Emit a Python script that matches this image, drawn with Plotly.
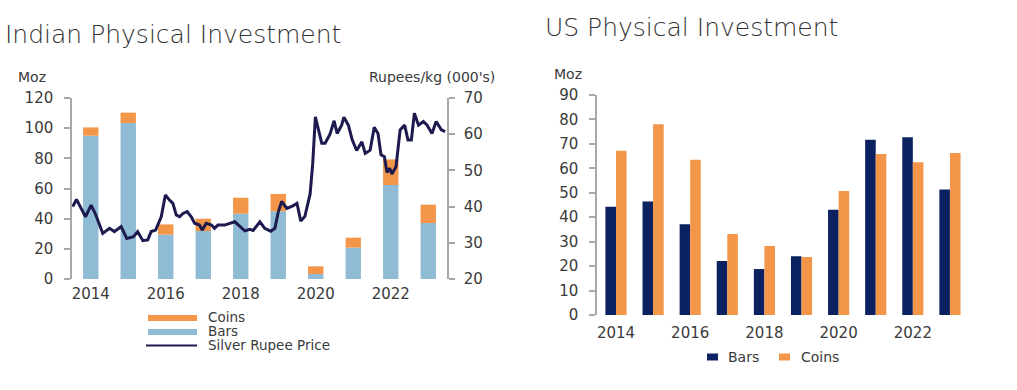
import plotly.graph_objects as go

# ---------------- data ----------------
years = [2014, 2015, 2016, 2017, 2018, 2019, 2020, 2021, 2022, 2023]
year_ticks = [2014, 2016, 2018, 2020, 2022]

india_bars = [95.0, 103.4, 29.4, 31.8, 43.3, 44.9, 3.3, 20.8, 62.3, 37.1]
india_coins = [5.5, 6.9, 6.8, 8.2, 10.6, 11.5, 5.1, 6.6, 17.0, 12.2]

price_t = [2014.02, 2014.12, 2014.36, 2014.51, 2014.62, 2014.82, 2015.00, 2015.13, 2015.31,
           2015.46, 2015.64, 2015.75, 2015.89, 2016.02, 2016.11, 2016.23, 2016.38, 2016.49,
           2016.60, 2016.69, 2016.78, 2016.87, 2016.96, 2017.07, 2017.18, 2017.27, 2017.40,
           2017.47, 2017.58, 2017.72, 2017.80, 2017.89, 2018.07, 2018.34, 2018.61, 2018.74,
           2018.83, 2019.01, 2019.14, 2019.30, 2019.41, 2019.50, 2019.59, 2019.73, 2019.89,
           2020.00, 2020.10, 2020.21, 2020.35, 2020.42, 2020.49, 2020.66, 2020.75, 2020.88,
           2020.99, 2021.07, 2021.19, 2021.25, 2021.37, 2021.47, 2021.59, 2021.73, 2021.82,
           2021.95, 2022.06, 2022.16, 2022.24, 2022.33, 2022.40, 2022.47, 2022.53, 2022.64,
           2022.75, 2022.87, 2022.96, 2023.05, 2023.13, 2023.24, 2023.37, 2023.47, 2023.60,
           2023.71, 2023.85, 2023.95]
price_v = [40.0, 42.0, 37.2, 40.4, 38.1, 32.6, 34.0, 33.1, 34.5,
           31.2, 31.7, 33.1, 30.6, 30.8, 33.1, 33.5, 37.2, 43.2,
           41.8, 40.9, 37.7, 37.2, 38.1, 38.6, 37.2, 35.4, 34.9,
           33.5, 35.4, 34.9, 34.0, 34.9, 34.9, 35.8, 33.3, 33.7,
           33.4, 35.8, 34.0, 33.2, 34.0, 38.5, 41.4, 39.5, 40.2,
           40.9, 36.0, 37.3, 43.5, 52.0, 64.8, 57.5, 57.5, 60.0,
           63.7, 60.2, 62.5, 64.7, 62.5, 58.5, 55.5, 57.9, 54.7,
           55.6, 61.9, 60.2, 54.3, 53.8, 49.4, 50.6, 49.0, 51.0,
           61.2, 62.5, 58.4, 58.4, 65.8, 62.5, 63.5, 62.5, 60.2,
           63.5, 61.2, 60.7]

us_bars = [44.3, 46.4, 37.1, 22.1, 18.8, 24.0, 43.1, 71.7, 72.7, 51.3]
us_coins = [67.2, 78.0, 63.5, 33.1, 28.2, 23.7, 50.7, 65.9, 62.5, 66.3]

# ---------------- styles ----------------
W, H = 1017, 390
C_BARS = "#8FBBD4"
C_COINS = "#F4964A"
C_LINE = "#1C1A4E"
C_NAVY = "#0B2160"
C_TXT = "#3A3A3A"
C_AX = "#A8A8A8"
FONT = "DejaVu Sans"


def px(x):
    return x / W


def py(y):
    return 1 - y / H


india_x = [y + 0.5 for y in years]

fig = go.Figure()

# Indian bars (stacked via base)
fig.add_trace(go.Bar(x=india_x, y=india_bars, width=0.41, offset=-0.205,
                     marker=dict(color=C_BARS, line=dict(width=0)),
                     xaxis="x", yaxis="y", showlegend=False, name="Bars"))
fig.add_trace(go.Bar(x=india_x, y=india_coins, base=india_bars, width=0.41, offset=-0.205,
                     marker=dict(color=C_COINS, line=dict(width=0)),
                     xaxis="x", yaxis="y", showlegend=False, name="Coins"))
fig.add_trace(go.Scatter(x=price_t, y=price_v, mode="lines",
                         line=dict(color=C_LINE, width=3),
                         xaxis="x", yaxis="y2", showlegend=False,
                         name="Silver Rupee Price"))

# US bars (grouped via explicit offsets)
fig.add_trace(go.Bar(x=years, y=us_bars, width=0.285, offset=-0.285,
                     marker=dict(color=C_NAVY, line=dict(width=0)),
                     xaxis="x3", yaxis="y3", showlegend=False, name="Bars"))
fig.add_trace(go.Bar(x=years, y=us_coins, width=0.285, offset=0.0,
                     marker=dict(color=C_COINS, line=dict(width=0)),
                     xaxis="x3", yaxis="y3", showlegend=False, name="Coins"))

tickfont = dict(family=FONT, size=15, color=C_TXT)

fig.update_layout(
    width=W, height=H,
    margin=dict(l=0, r=0, t=0, b=0, pad=0, autoexpand=False),
    paper_bgcolor="white", plot_bgcolor="rgba(0,0,0,0)",
    barmode="overlay",
    showlegend=False,
    xaxis=dict(domain=[px(72), px(447)], range=[2014, 2024],
               tickvals=[t + 0.5 for t in year_ticks], ticktext=[str(t) for t in year_ticks],
               showline=False, showgrid=False, zeroline=False, ticks="",
               tickfont=tickfont, anchor="y", automargin=False, ticklabelstandoff=4),
    yaxis=dict(domain=[py(279), py(98)], range=[0, 120], dtick=20,
               showline=True, linecolor=C_AX, linewidth=1.5,
               ticks="outside", ticklen=6, tickcolor=C_AX, tickwidth=1.5,
               showgrid=False, zeroline=False, tickfont=tickfont,
               ticklabelstandoff=8, anchor="x", automargin=False),
    yaxis2=dict(domain=[py(279), py(98)], range=[20, 70], dtick=10,
                overlaying="y", side="right", anchor="x",
                showline=True, linecolor=C_AX, linewidth=1.5,
                ticks="outside", ticklen=6, tickcolor=C_AX, tickwidth=1.5,
                showgrid=False, zeroline=False, tickfont=tickfont,
                ticklabelstandoff=6, automargin=False),
    xaxis3=dict(domain=[px(597), px(968.5)], range=[2013.488, 2023.5],
                tickvals=year_ticks, ticktext=[str(t) for t in year_ticks],
                showline=False, showgrid=False, zeroline=False, ticks="",
                tickfont=tickfont, anchor="y3", ticklabelstandoff=7, automargin=False),
    yaxis3=dict(domain=[py(315), py(95)], range=[0, 90], dtick=10,
                showline=True, linecolor=C_AX, linewidth=1.5,
                ticks="outside", ticklen=6, tickcolor=C_AX, tickwidth=1.5,
                showgrid=False, zeroline=False, tickfont=tickfont,
                ticklabelstandoff=8, anchor="x3", automargin=False),
)

ann = []


def text(x, y, s, size=15, xanchor="left", color=C_TXT, weight=None):
    f = dict(family=FONT, size=size, color=color)
    if weight:
        f["weight"] = weight
    ann.append(dict(x=px(x), y=py(y), xref="paper", yref="paper", text=s,
                    showarrow=False, xanchor=xanchor, yanchor="middle", font=f))


# titles
text(3, 34, "Indian Physical Investment", size=25, color="#333333", weight=300)
text(543, 28, "US Physical Investment", size=25, color="#333333", weight=300)
# axis unit labels
text(16, 77, "Moz", size=14)
text(497, 77, "Rupees/kg (000's)", size=14, xanchor="right")
text(552, 74, "Moz", size=14)

# left legend (manual)
shapes = []
shapes.append(dict(type="rect", xref="paper", yref="paper", x0=px(148), x1=px(197),
                   y0=py(321), y1=py(315), fillcolor=C_COINS, line=dict(width=0)))
shapes.append(dict(type="rect", xref="paper", yref="paper", x0=px(148), x1=px(197),
                   y0=py(335), y1=py(329), fillcolor=C_BARS, line=dict(width=0)))
shapes.append(dict(type="line", xref="paper", yref="paper", x0=px(146), x1=px(197),
                   y0=py(345.5), y1=py(345.5), line=dict(color=C_LINE, width=2)))
text(206, 317, "Coins", size=13.5)
text(206, 331, "Bars", size=13.5)
text(206, 345, "Silver Rupee Price", size=13.5)

# right legend (manual)
shapes.append(dict(type="rect", xref="paper", yref="paper", x0=px(707), x1=px(718),
                   y0=py(360.5), y1=py(353.5), fillcolor=C_NAVY, line=dict(width=0)))
shapes.append(dict(type="rect", xref="paper", yref="paper", x0=px(779), x1=px(790),
                   y0=py(360.5), y1=py(353.5), fillcolor=C_COINS, line=dict(width=0)))
text(726, 357, "Bars", size=14)
text(799, 357, "Coins", size=14)

fig.update_layout(annotations=ann, shapes=shapes)

fig.write_html("out.html",
               config={"displayModeBar": False},
               post_script="document.body.style.margin='0';document.body.style.padding='0';")
